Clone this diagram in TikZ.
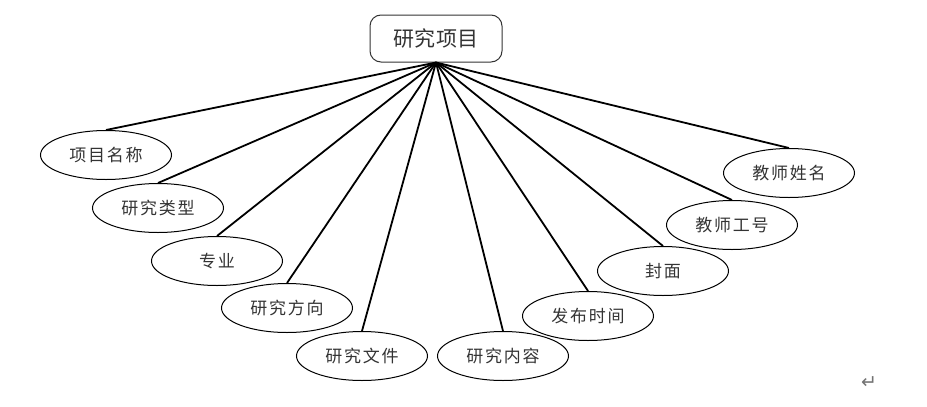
\documentclass[tikz,border=0pt]{standalone}
\usepackage{fontspec}
\usetikzlibrary{shapes.geometric}
\newfontfamily\cjk[LetterSpace=10]{Noto Sans CJK SC}
\newfontfamily\cjkroot[LetterSpace=2]{Noto Sans CJK SC}
\newfontfamily\symfont{DejaVu Sans}
\tikzset{attr/.style={draw=black,ellipse,line width=1pt,minimum width=131pt,minimum height=49pt,
 inner sep=0pt,font=\cjk\fontsize{17pt}{19pt}\selectfont,text=black!80},
 entity/.style={draw=black!80,rounded corners=11pt,line width=1pt,minimum width=132pt,minimum height=47pt,
 inner sep=0pt,font=\cjkroot\fontsize{21pt}{23pt}\selectfont,text=black!80},
 link/.style={line width=1.8pt,draw=black}}

\begin{document}
\begin{tikzpicture}[x=1pt,y=-1pt]
\useasboundingbox (0,0) rectangle (927,407);
\node[entity] (proj) at (436,38.5) {研究项目};
\node[attr] (name) at (106,155) {项目名称};
\node[attr] (type) at (158,208) {研究类型};
\node[attr] (major) at (217,261) {专业};
\node[attr] (dir) at (287,308) {研究方向};
\node[attr] (file) at (362,356) {研究文件};
\node[attr] (content) at (503,356) {研究内容};
\node[attr] (time) at (588,316) {发布时间};
\node[attr] (cover) at (663,271) {封面};
\node[attr] (tid) at (732,225) {教师工号};
\node[attr] (tname) at (789,173) {教师姓名};
\node[font=\symfont\fontsize{19pt}{21pt}\selectfont,text=black!55] (ret) at (869,383) {↵};
\draw[link] (proj.south)--(name.north);
\draw[link] (proj.south)--(type.north);
\draw[link] (proj.south)--(major.north);
\draw[link] (proj.south)--(dir.north);
\draw[link] (proj.south)--(file.north);
\draw[link] (proj.south)--(content.north);
\draw[link] (proj.south)--(time.north);
\draw[link] (proj.south)--(cover.north);
\draw[link] (proj.south)--(tid.north);
\draw[link] (proj.south)--(tname.north);
\end{tikzpicture}
\end{document}
